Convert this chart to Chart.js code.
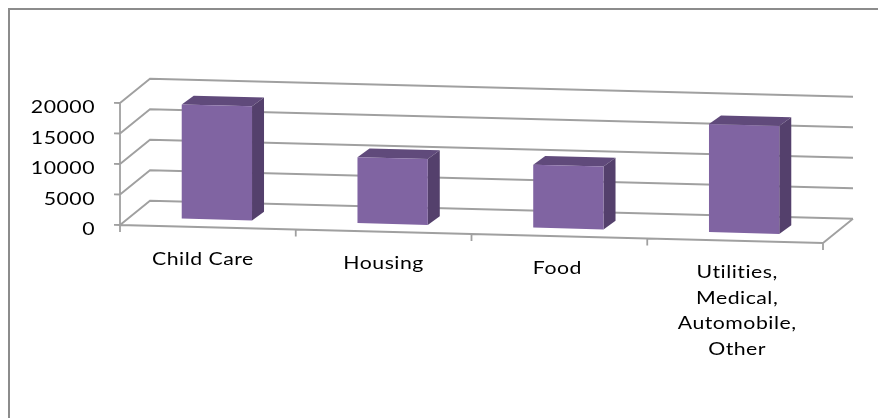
<!DOCTYPE html>
<html>
<head>
<meta charset="utf-8">
<title>Expenses</title>
<script src="https://cdn.jsdelivr.net/npm/chart.js@4"></script>
<style>
html,body{margin:0;padding:0;background:#fff}
#wrap{width:878px;height:418px;position:relative}
</style>
</head>
<body>
<div id="wrap"><canvas id="myChart" width="878" height="418"></canvas></div>
<script>
const categories = ['Child Care', 'Housing', 'Food', ['Utilities,', 'Medical,', 'Automobile,', 'Other']];
const values = [18700, 10800, 10300, 17700];
const yTicks = [0, 5000, 10000, 15000, 20000];

const slope = 0.0256;      // the whole floor runs downhill to the right
const wallDx = 30, wallDy = -25;   // depth of the floor
const barDx = 12, barDy = -9;      // depth of one bar
const barOffX = 9, barOffY = -8;   // bars stand a little back from the front edge
const lineCol = '#a0a0a0';
const labelNudge = [-5, 0, -2, 2];

function tilt(ctx, area) {
    ctx.transform(1, slope, 0, 1, 0, -slope * area.left);
}

function stretchText(ctx, text, x, y, align) {
    ctx.save();
    ctx.font = '17px Lato';
    ctx.letterSpacing = '0.4px';
    ctx.fillStyle = '#000';
    ctx.textBaseline = 'middle';
    ctx.textAlign = align;
    ctx.translate(x, y);
    ctx.scale(1.25, 1);
    ctx.fillText(text, 0, 0);
    ctx.restore();
}

const walls = {
    id: 'walls',
    beforeDatasetsDraw(chart) {
        const ctx = chart.ctx, a = chart.chartArea, ys = chart.scales.y;

        // outer frame, only top and left are inside the picture
        ctx.save();
        ctx.strokeStyle = '#8c8c8c';
        ctx.lineWidth = 2;
        ctx.beginPath();
        ctx.moveTo(9, 418);
        ctx.lineTo(9, 9);
        ctx.lineTo(878, 9);
        ctx.stroke();
        ctx.restore();

        ctx.save();
        tilt(ctx, a);
        ctx.strokeStyle = lineCol;
        ctx.lineWidth = 1.8;
        ctx.beginPath();
        ys.ticks.forEach(t => {
            const y = ys.getPixelForValue(t.value);
            ctx.moveTo(a.left - 6, y);
            ctx.lineTo(a.left, y);
            ctx.lineTo(a.left + wallDx, y + wallDy);
            ctx.lineTo(a.right + wallDx, y + wallDy);
        });
        // front of the floor, left axis, and right side of the floor
        ctx.moveTo(a.left, a.top);
        ctx.lineTo(a.left, a.bottom);
        ctx.lineTo(a.right, a.bottom);
        ctx.lineTo(a.right + wallDx, a.bottom + wallDy);
        for (let i = 0; i <= categories.length; i++) {
            const x = a.left + i * (a.right - a.left) / categories.length;
            ctx.moveTo(x, a.bottom);
            ctx.lineTo(x, a.bottom + 7);
        }
        ctx.stroke();
        ctx.restore();

        // tilted faces of the bars, then front faces from the library on top
        ctx.save();
        tilt(ctx, a);
        ctx.translate(barOffX, barOffY);
        chart.getDatasetMeta(0).data.forEach(b => {
            const p = b.getProps(['x', 'y', 'base', 'width'], true);
            const l = p.x - p.width / 2, r = p.x + p.width / 2;
            ctx.fillStyle = '#604a7b';
            ctx.beginPath();
            ctx.moveTo(l, p.y);
            ctx.lineTo(l + barDx, p.y + barDy);
            ctx.lineTo(r + barDx, p.y + barDy);
            ctx.lineTo(r, p.y);
            ctx.closePath();
            ctx.fill();
            ctx.fillStyle = '#54406c';
            ctx.beginPath();
            ctx.moveTo(r, p.y);
            ctx.lineTo(r + barDx, p.y + barDy);
            ctx.lineTo(r + barDx, p.base + barDy);
            ctx.lineTo(r, p.base);
            ctx.closePath();
            ctx.fill();
        });
        ctx.restore();

        ctx.save();
        tilt(ctx, a);
        ctx.translate(barOffX, barOffY);
    },
    afterDatasetsDraw(chart) {
        const ctx = chart.ctx, a = chart.chartArea, xs = chart.scales.x, ys = chart.scales.y;
        ctx.restore();

        ys.ticks.forEach(t => {
            stretchText(ctx, String(t.value), 95, ys.getPixelForValue(t.value) + 5, 'right');
        });
        categories.forEach((c, i) => {
            const cx = xs.getPixelForTick(i);
            const cy = a.bottom + slope * (cx - a.left) + 32;
            [].concat(c).forEach((s, n) => stretchText(ctx, s, cx + labelNudge[i], cy + n * 25.5, 'center'));
        });
    }
};

new Chart(document.getElementById('myChart').getContext('2d'), {
    type: 'bar',
    data: {
        labels: categories,
        datasets: [{
            data: values,
            backgroundColor: '#8064a2',
            borderWidth: 0,
            barPercentage: 1,
            categoryPercentage: 0.4,
            clip: false
        }]
    },
    options: {
        responsive: false,
        animation: false,
        layout: { padding: { left: 120, right: 55, top: 103, bottom: 193 } },
        plugins: { legend: { display: false }, title: { display: false }, tooltip: { enabled: false } },
        scales: {
            x: {
                grid: { display: false, drawTicks: false },
                border: { display: false },
                ticks: { display: false, autoSkip: false }
            },
            y: {
                min: 0,
                max: 20000,
                afterBuildTicks(axis) { axis.ticks = yTicks.map(v => ({ value: v })); },
                grid: { display: false, drawTicks: false },
                border: { display: false },
                ticks: { display: false }
            }
        }
    },
    plugins: [walls]
});
</script>
</body>
</html>
